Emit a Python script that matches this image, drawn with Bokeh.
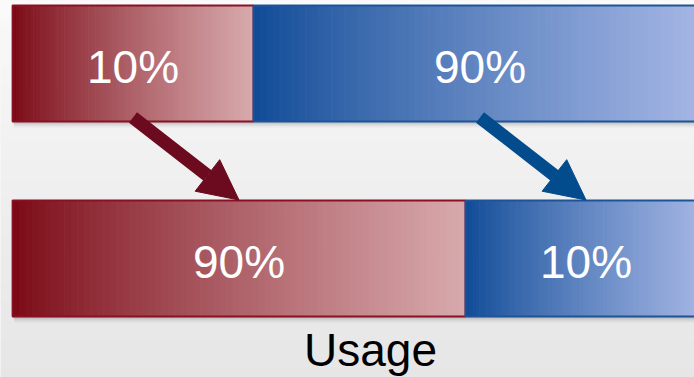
import numpy as np
from bokeh.plotting import figure
from bokeh.models import Range1d, Arrow, NormalHead
from bokeh.core.properties import value
from bokeh.embed import file_html
from bokeh.resources import INLINE

# ---- data ----
row_names = ["Before", "After"]
before_labels = ["10%", "90%"]
after_labels = ["90%", "10%"]
# drawn segment lengths (diagram is stylised, not proportional)
before_lengths = [241, 453]
after_lengths = [453, 241]
axis_title = "Usage"

# ---- layout / style ----
W, H = 694, 377
X0 = 12
ROW_Y = [63, 258]
BAR_H = 116
FONT = "Liberation Sans"

seg_styles = [
    dict(c0=(122, 8, 20), c1=(216, 170, 173), border="#8a1024", arrow="#6c0a1f"),
    dict(c0=(14, 74, 150), c1=(166, 183, 229), border="#1d5498", arrow="#024b8c"),
]


def hexc(rgb):
    return "#%02x%02x%02x" % tuple(int(round(max(0, min(255, c)))) for c in rgb)


def lerp(a, b, t):
    t = t ** 0.85
    return [a[i] + (b[i] - a[i]) * t for i in range(3)]


p = figure(width=W, height=H, x_range=Range1d(0, W), y_range=Range1d(H, 0),
           output_backend="svg", toolbar_location=None, min_border=0)
p.axis.visible = False
p.grid.visible = False
p.outline_line_color = None
p.background_fill_color = "#efefef"
p.border_fill_color = "#efefef"

# background: soft vertical gradient
nb = 40
ys = np.linspace(0, H, nb + 1)
p.quad(left=0, right=W, top=ys[:-1], bottom=ys[1:] + 0.8,
       fill_color=[hexc(lerp((250, 250, 250), (230, 230, 230), (i + .5) / nb)) for i in range(nb)],
       line_color=None)

rows = [(before_lengths, before_labels), (after_lengths, after_labels)]
centers_per_row = []
for (lengths, labels), yc in zip(rows, ROW_Y):
    edges = X0 + np.concatenate([[0], np.cumsum(lengths)])
    top, bot = yc - BAR_H / 2, yc + BAR_H / 2
    centers = []
    for k in range(len(lengths)):
        l, r = edges[k], edges[k + 1]
        st = seg_styles[k]
        # drop shadow
        for off, a in [(2, 0.10), (4, 0.07), (6, 0.04)]:
            p.quad(left=l + off * 0.3, right=r + off * 0.3, top=top + off, bottom=bot + off,
                   fill_color="black", fill_alpha=a, line_color=None)
        # gradient fill as thin strips
        n = 70
        xs = np.linspace(l, r, n + 1)
        p.quad(left=xs[:-1], right=xs[1:] + 0.6, top=top, bottom=bot,
               fill_color=[hexc(lerp(st["c0"], st["c1"], (i + .5) / n)) for i in range(n)],
               line_color=None)
        # border
        p.quad(left=l, right=r, top=top, bottom=bot, fill_color=None,
               line_color=st["border"], line_width=1.8)
        centers.append((l + r) / 2)
    centers_per_row.append(centers)
    p.text(x=centers, y=[yc] * len(centers), text=labels, text_color="white",
           text_font=value(FONT), text_font_size="46px", text_align="center",
           text_baseline="alphabetic", y_offset=3)

# arrows connecting matching segments
for k in range(2):
    c = seg_styles[k]["arrow"]
    arr = Arrow(end=NormalHead(size=40, fill_color=c, line_color=c, line_width=1),
                x_start=centers_per_row[0][k], y_start=ROW_Y[0] + BAR_H / 2 - 4,
                x_end=centers_per_row[1][k], y_end=ROW_Y[1] - BAR_H / 2 - 0.5,
                line_color=c, line_width=13)
    p.add_layout(arr)

p.text(x=[370], y=[349], text=[axis_title], text_color="black",
       text_font=value(FONT), text_font_size="46px", text_align="center",
       text_baseline="alphabetic")

open("out.html", "w").write(file_html(p, INLINE))
